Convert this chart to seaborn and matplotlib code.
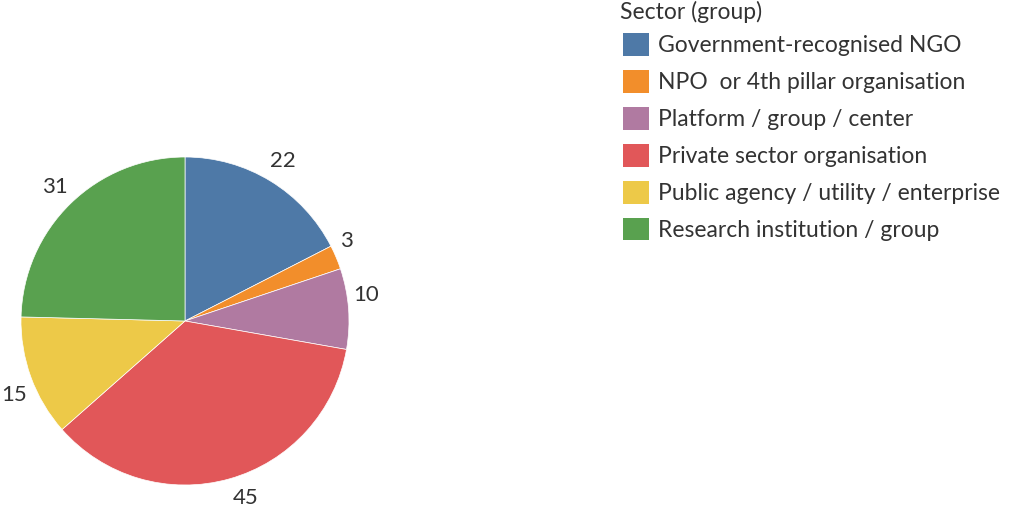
import matplotlib
matplotlib.use("Agg")
import matplotlib.pyplot as plt
import seaborn as sns
import numpy as np
from matplotlib.patches import Patch

sectors = [
    "Government-recognised NGO",
    "NPO  or 4th pillar organisation",
    "Platform / group / center",
    "Private sector organisation",
    "Public agency / utility / enterprise",
    "Research institution / group",
]
counts = [22, 3, 10, 45, 15, 31]
colors = ["#4e79a7", "#f28e2b", "#b07aa1", "#e15759", "#edc948", "#59a14f"]
legend_title = "Sector (group)"

sns.set_theme(style="white")
plt.rcParams["font.family"] = ["Lato", "DejaVu Sans"]

W, H = 1009, 512
fig = plt.figure(figsize=(W / 100, H / 100), dpi=100)
cx, cy, r = 185, 321, 164
ax = fig.add_axes([(cx - r) / W, (H - cy - r) / H, 2 * r / W, 2 * r / H])
wedges, texts = ax.pie(
    counts,
    labels=[str(c) for c in counts],
    colors=colors,
    startangle=90,
    counterclock=False,
    labeldistance=1.14,
    wedgeprops=dict(edgecolor="white", linewidth=0.5),
    textprops=dict(fontsize=16, color="#333333"),
)


def nudge(t, scale=1.0, rot_deg=0.0):
    x, y = t.get_position()
    a = np.deg2rad(rot_deg)
    xr = x * np.cos(a) - y * np.sin(a)
    yr = x * np.sin(a) + y * np.cos(a)
    t.set_position((xr * scale, yr * scale))


for t in texts:
    t.set_ha("center")
    t.set_va("center")
# small counter-clockwise nudges of the labels, as in the reference
nudge(texts[1], 0.965, 3.5)
nudge(texts[2], 0.98, 4.0)
nudge(texts[3], 1.0, 3.3)
nudge(texts[4], 0.995, 3.4)
ax.set_xlim(-1, 1)
ax.set_ylim(-1, 1)
ax.set_aspect("equal")
ax.axis("off")

fig.text(620 / W, 1 - 12 / H, legend_title, fontsize=16.5, color="#333333",
         ha="left", va="center")
handles = [Patch(facecolor=c, edgecolor="none") for c in colors]
leg = fig.legend(
    handles, sectors,
    loc="upper left",
    bbox_to_anchor=(621 / W, 1 - 31 / H),
    frameon=False,
    fontsize=16.5,
    handlelength=1.1,
    handleheight=1.15,
    handletextpad=0.4,
    labelspacing=0.6,
    borderaxespad=0,
    borderpad=0.1,
)
for t in leg.get_texts():
    t.set_color("#333333")

fig.savefig("out.png", dpi=100, facecolor="white")
